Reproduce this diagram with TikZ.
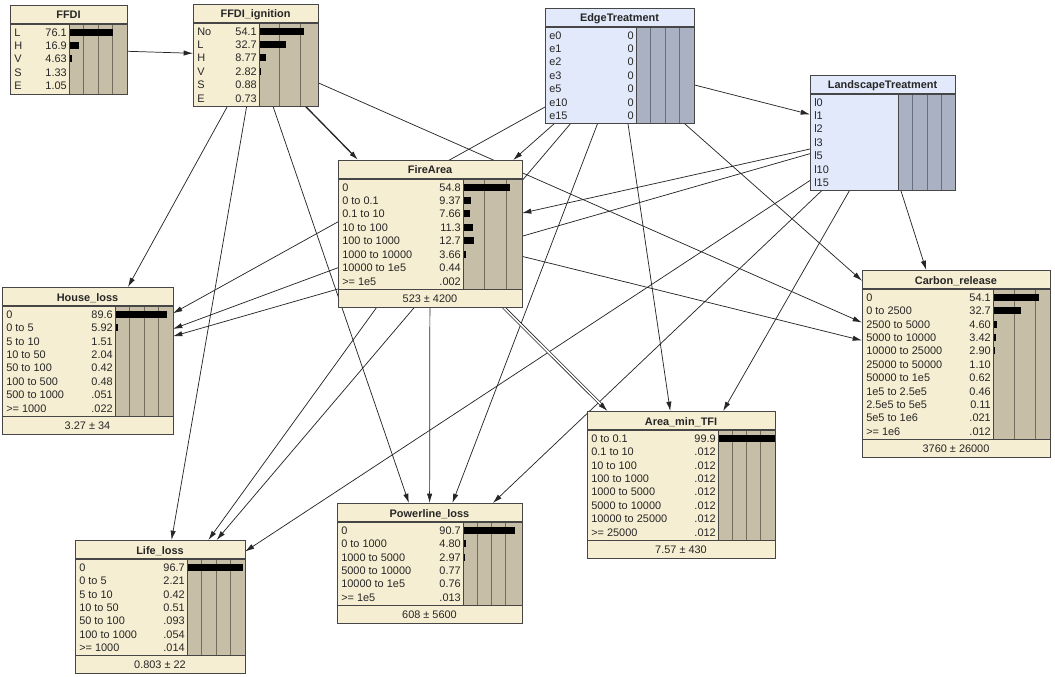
\documentclass[tikz,border=0pt]{standalone}
\usepackage{fontspec}
\setmainfont{Liberation Sans}
\usetikzlibrary{arrows.meta,backgrounds}

\definecolor{beige}{RGB}{246,238,210}
\definecolor{beigebar}{RGB}{198,190,167}
\definecolor{beigegrid}{RGB}{115,107,92}
\definecolor{paleblue}{RGB}{225,233,250}
\definecolor{palebluebar}{RGB}{170,177,194}
\definecolor{palebluegrid}{RGB}{105,110,125}
\definecolor{bnline}{RGB}{70,70,70}

\tikzset{
  bnbox/.style={inner sep=0pt, outer sep=0pt, anchor=north west},
  bntext/.style={inner sep=0pt, text=black!85, font=\fontsize{8.2}{9}\selectfont},
  link/.style={draw=black!85, line width=0.55pt, -{Latex[length=7pt,width=4pt]}},
}

% \bnnode{name}{x,y}{width}{bar x}{scale}{title}{rows}{footer}{colour}
\newcommand{\bnnode}[9]{%
  \foreach \row [count=\n] in {#7} {\xdef\bnrows{\n}}%
  \pgfmathsetmacro\bnbody{22+13.4*\bnrows}%
  \def\bnfoot{#8}%
  \ifx\bnfoot\empty \let\bnh\bnbody \else \pgfmathsetmacro\bnh{\bnbody+18}\fi
  \node[bnbox, fill=#9, minimum width={#3*0.75pt}, minimum height={\bnh*0.75pt}] (#1) at (#2) {};
  \begin{scope}[shift={(#1.north west)}]
    \fill[#9bar] (#4,19) rectangle (#3,\bnbody);
    \foreach \k in {1,2,3} {%
      \pgfmathsetmacro\gx{#4+25*\k*#5}%
      \ifdim\gx pt<#3pt \draw[#9grid, line width=0.5pt] (\gx,19) -- (\gx,\bnbody);\fi}
    \foreach \lab/\val/\pct [count=\i] in {#7} {%
      \pgfmathsetmacro\ry{17.8+13.4*\i}%
      \node[bntext, anchor=base west] at (4,\ry) {\lab};
      \node[bntext, anchor=base east] at (#4-2,\ry) {\val};
      \pgfmathsetmacro\bl{\pct*#5}%
      \ifdim\bl pt>0.8pt \fill[black] (#4,\ry-7.5) rectangle ++(\bl,7);\fi}
    \node[bntext, font=\fontsize{8.2}{9}\selectfont\bfseries, anchor=base] at (#3/2,14) {#6};
    \draw[bnline, line width=0.8pt] (0,19) -- (#3,19);
    \draw[bnline, line width=0.6pt] (#4,19) -- (#4,\bnbody);
    \ifx\bnfoot\empty\else
      \draw[bnline, line width=0.8pt] (0,\bnbody) -- (#3,\bnbody);
      \node[bntext, anchor=base] at (#3/2,\bnbody+13) {#8};
    \fi
    \draw[bnline, line width=0.7pt] (0,0) rectangle (#3,\bnh);
  \end{scope}}

\begin{document}
\begin{tikzpicture}[x=0.75pt,y=-0.75pt]
\useasboundingbox (0,0) rectangle (1055,677);

\bnnode{FFDI}{10,5}{117}{59}{0.58}{FFDI}
  {L/76.1/76.1, H/16.9/16.9, V/4.63/4.63, S/1.33/1.33, E/1.05/1.05}{}{beige}
\bnnode{IG}{193,4}{125}{66}{0.83}{FFDI\_ignition}
  {No/54.1/54.1, L/32.7/32.7, H/8.77/8.77, V/2.82/2.82, S/0.88/0.88, E/0.73/0.73}{}{beige}
\bnnode{ET}{545,8}{149}{91}{0.58}{EdgeTreatment}
  {e0/0/0, e1/0/0, e2/0/0, e3/0/0, e5/0/0, e10/0/0, e15/0/0}{}{paleblue}
\bnnode{LT}{810,75}{145}{88}{0.58}{LandscapeTreatment}
  {l0/{}/0, l1/{}/0, l2/{}/0, l3/{}/0, l5/{}/0, l10/{}/0, l15/{}/0}{}{paleblue}
\bnnode{FA}{338,160}{184}{125}{0.86}{FireArea}
  {0/54.8/54.8, 0 to 0.1/9.37/9.37, 0.1 to 10/7.66/7.66, 10 to 100/11.3/11.3,
   100 to 1000/12.7/12.7, 1000 to 10000/3.66/3.66, 10000 to 1e5/0.44/0.44, >= 1e5/.002/0}
  {523 ± 4200}{beige}
\bnnode{HL}{2,287}{171}{113}{0.58}{House\_loss}
  {0/89.6/89.6, 0 to 5/5.92/5.92, 5 to 10/1.51/1.51, 10 to 50/2.04/2.04,
   50 to 100/0.42/0.42, 100 to 500/0.48/0.48, 500 to 1000/.051/0, >= 1000/.022/0}
  {3.27 ± 34}{beige}
\bnnode{CR}{862,270}{188}{131}{0.85}{Carbon\_release}
  {0/54.1/54.1, 0 to 2500/32.7/32.7, 2500 to 5000/4.60/4.60, 5000 to 10000/3.42/3.42,
   10000 to 25000/2.90/2.90, 25000 to 50000/1.10/1.10, 50000 to 1e5/0.62/0.62,
   1e5 to 2.5e5/0.46/0.46, 2.5e5 to 5e5/0.11/0.11, 5e5 to 1e6/.021/0, >= 1e6/.012/0}
  {3760 ± 26000}{beige}
\bnnode{AM}{587,411}{188}{131}{0.57}{Area\_min\_TFI}
  {0 to 0.1/99.9/99.9, 0.1 to 10/.012/0, 10 to 100/.012/0, 100 to 1000/.012/0,
   1000 to 5000/.012/0, 5000 to 10000/.012/0, 10000 to 25000/.012/0, >= 25000/.012/0}
  {7.57 ± 430}{beige}
\bnnode{PL}{337,503}{185}{126}{0.57}{Powerline\_loss}
  {0/90.7/90.7, 0 to 1000/4.80/4.80, 1000 to 5000/2.97/2.97, 5000 to 10000/0.77/0.77,
   10000 to 1e5/0.76/0.76, >= 1e5/.013/0}
  {608 ± 5600}{beige}
\bnnode{LL}{75,540}{170}{112}{0.58}{Life\_loss}
  {0/96.7/96.7, 0 to 5/2.21/2.21, 5 to 10/0.42/0.42, 10 to 50/0.51/0.51,
   50 to 100/.093/0, 100 to 1000/.054/0, >= 1000/.014/0}
  {0.803 ± 22}{beige}

\begin{scope}[on background layer]
  \draw[link] (FFDI) -- (IG);
  \draw[link, line width=1pt] (IG) -- (FA);
  \foreach \to in {HL,LL,PL,CR} \draw[link] (IG) -- (\to);
  \foreach \to in {LT,FA,HL,LL,PL,AM,CR} \draw[link] (ET) -- (\to);
  \foreach \to in {FA,HL,LL,PL,AM,CR} \draw[link] (LT) -- (\to);
  \foreach \to in {HL,LL,PL,CR} \draw[link] (FA) -- (\to);
  \draw[link, double, double distance=1.2pt] (FA) -- (AM);
\end{scope}
\end{tikzpicture}
\end{document}
